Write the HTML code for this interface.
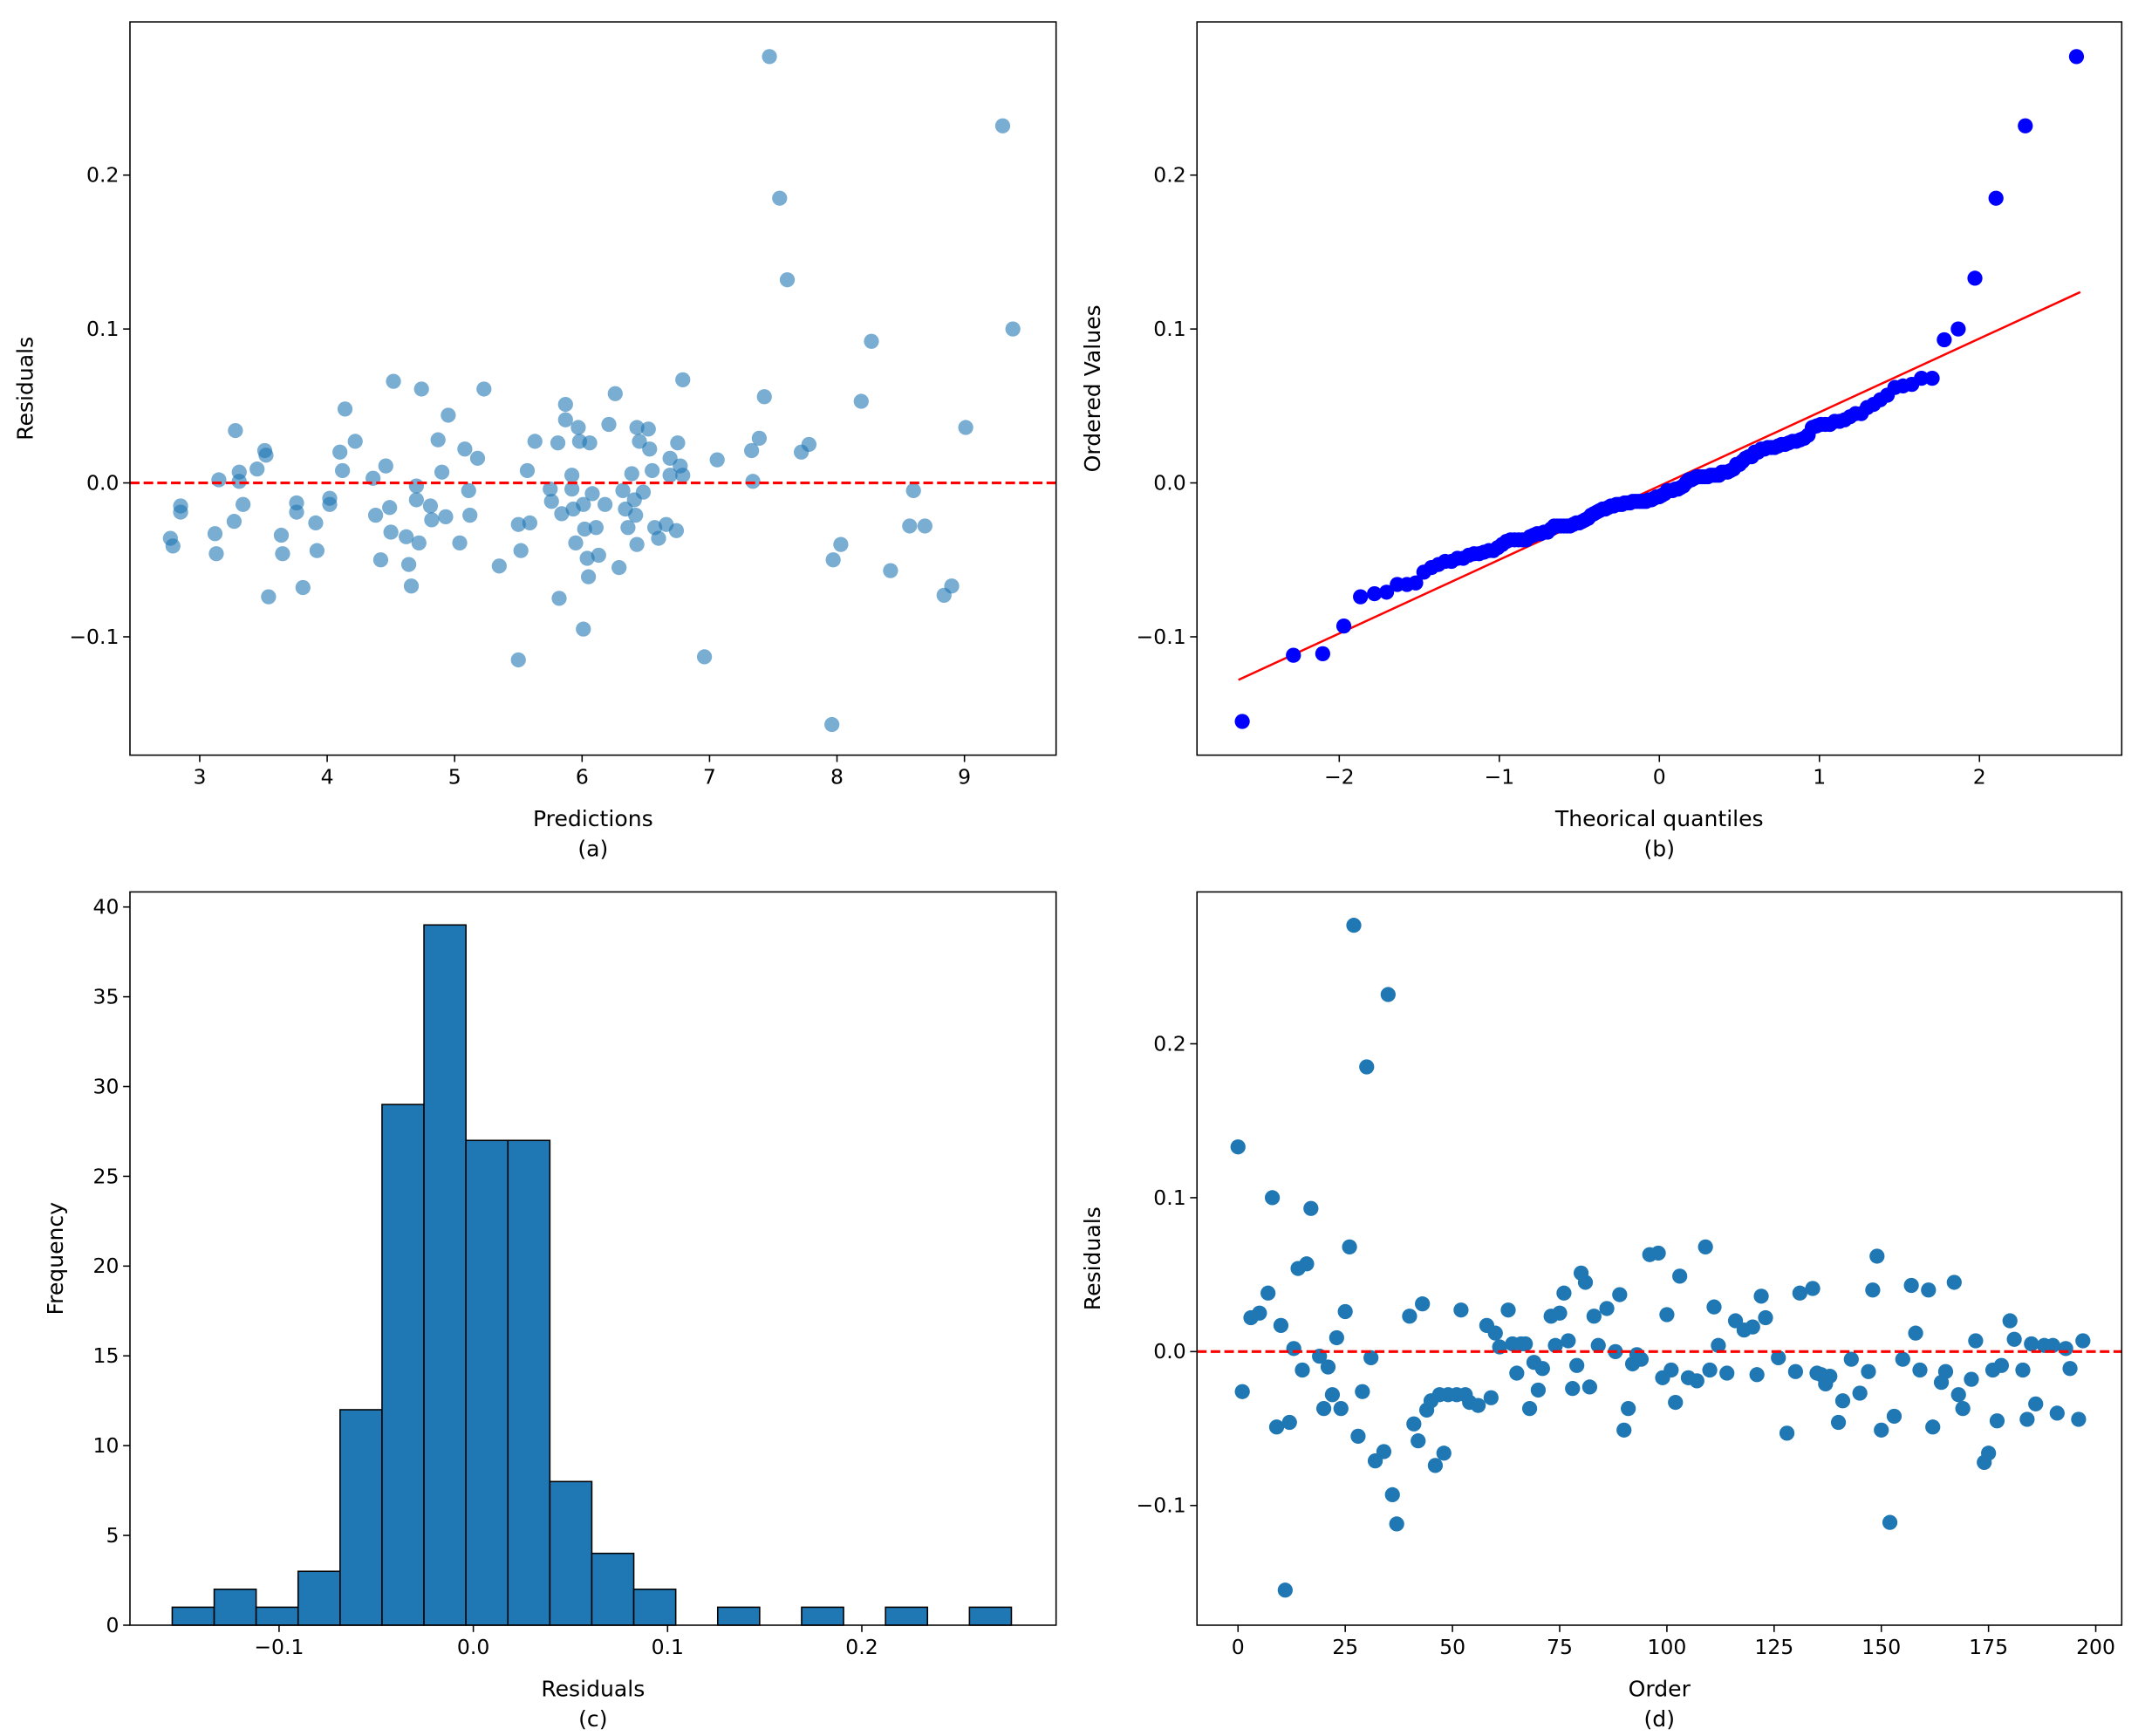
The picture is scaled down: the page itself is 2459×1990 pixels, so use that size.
<!DOCTYPE html>
<html><head><meta charset="utf-8">
<style>
html,body{margin:0;padding:0;background:#fff;}
svg{display:block;font-family:"DejaVu Sans","Liberation Sans",sans-serif;}
text{fill:#000;}
</style></head>
<body>
<svg id="fig" width="2459" height="1990" viewBox="0 0 1568 1269" preserveAspectRatio="none" xmlns="http://www.w3.org/2000/svg">
<rect x="0" y="0" width="1568" height="1269" fill="#fff"/>
</svg>
<script>
// ---- Panel (a) data: predictions vs residuals ----
const predA = [2.77,2.79,2.85,2.85,3.12,3.13,3.15,3.27,3.28,3.31,3.31,3.34,3.45,3.51,3.52,3.54,3.64,3.65,3.76,3.76,3.81,3.91,3.92,4.02,4.02,4.10,4.12,4.14,4.22,4.36,4.38,4.42,4.46,4.49,4.50,4.52,4.62,4.64,4.66,4.70,4.70,4.72,4.74,4.81,4.82,4.87,4.90,4.93,4.95,5.04,5.08,5.11,5.12,5.18,5.23,5.35,5.50,5.50,5.52,5.57,5.59,5.63,5.75,5.76,5.81,5.82,5.84,5.87,5.87,5.92,5.92,5.93,5.95,5.97,5.98,6.01,6.01,6.02,6.04,6.05,6.06,6.08,6.11,6.13,6.18,6.21,6.26,6.29,6.32,6.34,6.36,6.39,6.41,6.42,6.43,6.43,6.45,6.48,6.52,6.53,6.55,6.57,6.60,6.66,6.69,6.69,6.74,6.75,6.77,6.79,6.79,7.06,6.96,7.33,7.34,7.39,7.43,7.72,7.78,7.61,7.97,7.96,8.03,8.19,8.27,8.42,8.57,8.60,8.69,8.84,8.90,9.01,9.38,7.47,9.30,7.55];
const residA = [-0.036,-0.041,-0.015,-0.019,-0.033,-0.046,0.002,-0.025,0.034,0.007,0.001,-0.014,0.009,0.021,0.018,-0.074,-0.034,-0.046,-0.013,-0.019,-0.068,-0.026,-0.044,-0.010,-0.014,0.020,0.008,0.048,0.027,0.003,-0.021,-0.050,0.011,-0.016,-0.032,0.066,-0.035,-0.053,-0.067,-0.002,-0.011,-0.039,0.061,-0.015,-0.024,0.028,0.007,-0.022,0.044,-0.039,0.022,-0.005,-0.021,0.016,0.061,-0.054,-0.027,-0.115,-0.044,0.008,-0.026,0.027,-0.004,-0.012,0.026,-0.075,-0.020,0.051,0.041,0.005,-0.004,-0.017,-0.039,0.036,0.027,-0.014,-0.095,-0.030,-0.049,-0.061,0.026,-0.007,-0.029,-0.047,-0.014,0.038,0.058,-0.055,-0.005,-0.017,-0.029,0.006,-0.011,-0.021,0.036,-0.040,0.027,-0.006,0.035,0.022,0.008,-0.029,-0.036,-0.027,0.016,0.005,-0.031,0.026,0.011,0.005,0.067,0.015,-0.113,0.021,0.001,0.029,0.056,0.020,0.025,0.132,-0.050,-0.157,-0.040,0.053,0.092,-0.057,-0.028,-0.005,-0.028,-0.073,-0.067,0.036,0.100,0.277,0.232,0.185];
const xTicksA = [3,4,5,6,7,8,9];
const yTicksRes = [-0.1,0.0,0.1,0.2];
const yTickLabelsRes = ["\u22120.1","0.0","0.1","0.2"];

// ---- Panel (d) data: residuals by order ----
const orderD = [0,1,3,5,7,8,9,10,11,12,13,14,15,16,17,19,20,21,22,23,24,25,26,27,28,29,30,31,32,34,35,36,37,40,41,42,43,44,45,46,47,48,49,51,52,53,54,56,58,59,60,61,63,64,65,66,67,68,69,70,71,73,74,75,76,77,78,79,80,81,82,83,84,86,88,89,90,91,92,93,94,96,98,99,100,101,102,103,105,107,109,110,111,112,114,116,118,120,121,122,123,126,128,130,131,134,135,136,137,138,140,141,143,145,147,148,149,150,152,153,155,157,158,159,161,162,164,165,167,168,169,171,172,174,175,176,177,178,180,181,183,184,185,186,188,190,191,193,194,196,197];
const residD = [0.133,-0.026,0.022,0.025,0.038,0.100,-0.049,0.017,-0.155,-0.046,0.002,0.054,-0.012,0.057,0.093,-0.003,-0.037,-0.010,-0.028,0.009,-0.037,0.026,0.068,0.277,-0.055,-0.026,0.185,-0.004,-0.071,-0.065,0.232,-0.093,-0.112,0.023,-0.047,-0.058,0.031,-0.038,-0.032,-0.074,-0.028,-0.066,-0.028,-0.028,0.027,-0.028,-0.033,-0.035,0.017,-0.030,0.012,0.003,0.027,0.005,-0.014,0.005,0.005,-0.037,-0.007,-0.025,-0.011,0.023,0.004,0.025,0.038,0.007,-0.024,-0.009,0.051,0.045,-0.023,0.023,0.004,0.028,0.000,0.037,-0.051,-0.037,-0.008,-0.002,-0.005,0.063,0.064,-0.017,0.024,-0.012,-0.033,0.049,-0.017,-0.019,0.068,-0.012,0.029,0.004,-0.014,0.020,0.014,0.016,-0.015,0.036,0.022,-0.004,-0.053,-0.013,0.038,0.041,-0.014,-0.015,-0.021,-0.016,-0.046,-0.032,-0.005,-0.027,-0.013,0.040,0.062,-0.051,-0.111,-0.042,-0.005,0.043,0.012,-0.012,0.040,-0.049,-0.020,-0.013,0.045,-0.028,-0.037,-0.018,0.007,-0.072,-0.066,-0.012,-0.045,-0.009,0.020,0.008,-0.012,-0.044,0.005,-0.034,0.004,0.004,-0.040,0.002,-0.011,-0.044,0.007];
const xTicksD = [0,25,50,75,100,125,150,175,200];

// ---- Panel (b): fitted line ----
const qqFitX = [-2.63,2.63];
const qqFitY = [-0.128,0.124];
const xTicksB = [-2,-1,0,1,2];
const xTickLabelsB = ["\u22122","\u22121","0","1","2"];

// ---- Panel (c): histogram ----
const histStart = -0.155;
const histWidth = 0.0216;
const histCounts = [1,2,1,3,12,29,39,27,27,8,4,2,0,1,0,1,0,1,0,1];
const xTicksC = [-0.1,0.0,0.1,0.2];
const xTickLabelsC = ["\u22120.1","0.0","0.1","0.2"];
const yTicksC = [0,5,10,15,20,25,30,35,40];

const NS="http://www.w3.org/2000/svg";
const svg=document.getElementById('fig');
function mk(tag,attrs,parent){const e=document.createElementNS(NS,tag);for(const k in attrs)e.setAttribute(k,attrs[k]);(parent||svg).appendChild(e);return e;}
function txt(s,x,y,anchor,size,parent,rot){const t=mk('text',{x:x,y:y,'text-anchor':anchor,'font-size':size},parent);if(rot)t.setAttribute('transform','rotate(-90 '+x+' '+y+')');t.textContent=s;return t;}

// axis scales
const P={
 a:{x0:95,x1:772,y0:16,y1:552,sx:v=>146+(v-3)*93.17,sy:v=>353-v*1125},
 b:{x0:875,x1:1551,y0:16,y1:552,sx:v=>1213+v*117,sy:v=>353-v*1125},
 c:{x0:95,x1:772,y0:652,y1:1188,sx:v=>346+v*1420,sy:v=>1188-v*13.125},
 d:{x0:875,x1:1551,y0:652,y1:1188,sx:v=>905+v*3.135,sy:v=>988-v*1125}
};
const FS=15;
function axes(p,g,xt,xl,yt,yl,xlabel,ylabel,sub,ylabX){
 for(let i=0;i<xt.length;i++){const x=p.sx(xt[i]);
  const tk=mk('line',{x1:x,x2:x,y1:p.y1,y2:p.y1+5,stroke:'#000','stroke-width':1},g);
  
  
  const l=txt(xl[i],x,p.y1+21,'middle',FS,g);
  
  }
 for(let i=0;i<yt.length;i++){const y=p.sy(yt[i]);
  const tk=mk('line',{x1:p.x0-5,x2:p.x0,y1:y,y2:y,stroke:'#000','stroke-width':1},g);
  
  
  const l=txt(yl[i],p.x0-8,y+5,'end',FS,g);
  
  }
 const fr=mk('rect',{x:p.x0,y:p.y0,width:p.x1-p.x0,height:p.y1-p.y0,fill:'none',stroke:'#000','stroke-width':1},g);
 
 
 const xlT=txt(xlabel,(p.x0+p.x1)/2,p.y1+52,'middle',16,g);
 
 
 const sl=txt(sub,(p.x0+p.x1)/2,p.y1+74,'middle',16,g);
 
 
 const ylT=txt(ylabel,ylabX,(p.y0+p.y1)/2,'middle',16,g,true);
 
 
}

// Panel a
const ga=mk('g',{});


for(let i=0;i<predA.length;i++){
 const c=mk('circle',{cx:P.a.sx(predA[i]),cy:P.a.sy(residA[i]),r:5.5,fill:'#1f77b4','fill-opacity':0.6},ga);
 
 
}
const za=mk('line',{x1:P.a.x0,x2:P.a.x1,y1:P.a.sy(0),y2:P.a.sy(0),stroke:'#ff0000','stroke-width':2,'stroke-dasharray':'7,3'},ga);


axes(P.a,ga,xTicksA,xTicksA.map(String),yTicksRes,yTickLabelsRes,'Predictions','Residuals','(a)',24);

// Panel b
function invNorm(p){const a=[-39.69683028665376,220.9460984245205,-275.9285104469687,138.357751867269,-30.66479806614716,2.506628277459239],b=[-54.47609879822406,161.5858368580409,-155.6989798598866,66.80131188771972,-13.28068155211300],c=[-0.007784894002430293,-0.3223964580411365,-2.400758277161838,-2.549732539343734,4.374664141464968,2.938163982698783],d=[0.007784695709041462,0.3224671290700398,2.445134137142996,3.754408661907416];const pl=0.02425;let q,r;if(p<pl){q=Math.sqrt(-2*Math.log(p));return(((((c[0]*q+c[1])*q+c[2])*q+c[3])*q+c[4])*q+c[5])/((((d[0]*q+d[1])*q+d[2])*q+d[3])*q+1);}if(p>1-pl){q=Math.sqrt(-2*Math.log(1-p));return-(((((c[0]*q+c[1])*q+c[2])*q+c[3])*q+c[4])*q+c[5])/((((d[0]*q+d[1])*q+d[2])*q+d[3])*q+1);}q=p-0.5;r=q*q;return(((((a[0]*r+a[1])*r+a[2])*r+a[3])*r+a[4])*r+a[5])*q/(((((b[0]*r+b[1])*r+b[2])*r+b[3])*r+b[4])*r+1);}
const gb=mk('g',{});


const sorted=residD.slice().sort((u,v)=>u-v);
const n=sorted.length;
const fl=mk('line',{x1:P.b.sx(qqFitX[0]),y1:P.b.sy(qqFitY[0]),x2:P.b.sx(qqFitX[1]),y2:P.b.sy(qqFitY[1]),stroke:'#ff0000','stroke-width':1.6},gb);


for(let i=0;i<n;i++){
 let m;if(i===n-1)m=Math.pow(0.5,1/n);else if(i===0)m=1-Math.pow(0.5,1/n);else m=(i+1-0.3175)/(n+0.365);
 const c=mk('circle',{cx:P.b.sx(invNorm(m)),cy:P.b.sy(sorted[i]),r:5.5,fill:'#0000ff'},gb);
 
 
}
axes(P.b,gb,xTicksB,xTickLabelsB,yTicksRes,yTickLabelsRes,'Theorical quantiles','Ordered Values','(b)',804);

// Panel c
const gc=mk('g',{});


for(let i=0;i<histCounts.length;i++){
 if(histCounts[i]===0)continue;
 const x0=P.c.sx(histStart+i*histWidth),x1=P.c.sx(histStart+(i+1)*histWidth);
 const r=mk('rect',{x:x0,y:P.c.sy(histCounts[i]),width:x1-x0,height:P.c.sy(0)-P.c.sy(histCounts[i]),fill:'#1f77b4',stroke:'#000','stroke-width':1},gc);
 
 
}
axes(P.c,gc,xTicksC,xTickLabelsC,yTicksC,yTicksC.map(String),'Residuals','Frequency','(c)',46);

// Panel d
const gd=mk('g',{});


for(let i=0;i<orderD.length;i++){
 const c=mk('circle',{cx:P.d.sx(orderD[i]),cy:P.d.sy(residD[i]),r:5.5,fill:'#1f77b4'},gd);
 
 
}
const zd=mk('line',{x1:P.d.x0,x2:P.d.x1,y1:P.d.sy(0),y2:P.d.sy(0),stroke:'#ff0000','stroke-width':2,'stroke-dasharray':'7,3'},gd);


axes(P.d,gd,xTicksD,xTicksD.map(String),yTicksRes,yTickLabelsRes,'Order','Residuals','(d)',804);
</script>
</body></html>
